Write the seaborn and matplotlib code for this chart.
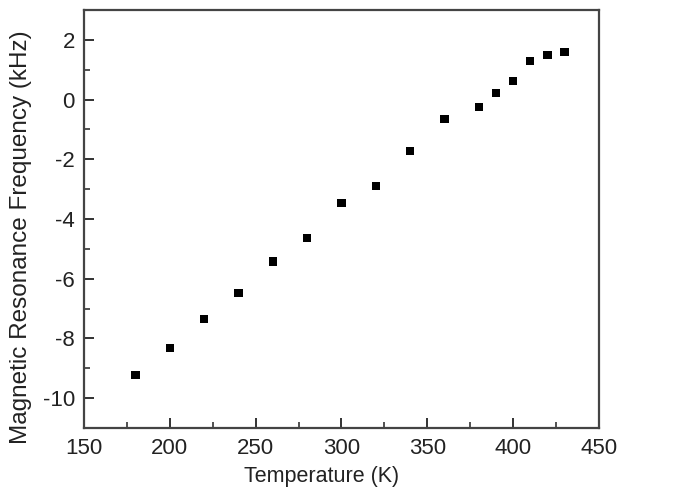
import numpy as np
import pandas as pd
import seaborn as sns
import matplotlib
matplotlib.use("Agg")
from matplotlib import pyplot as plt
from matplotlib.ticker import MultipleLocator

# data
temperature = [180, 200, 220, 240, 260, 280, 300, 320, 340, 360, 380, 390, 400, 410, 420, 430]
frequency = [-9.23, -8.33, -7.36, -6.48, -5.42, -4.63, -3.47, -2.89, -1.72, -0.65,
             -0.26, 0.23, 0.62, 1.30, 1.50, 1.59]

df = pd.DataFrame({'Temperature': temperature, 'Frequency': frequency})

sns.set_style('white')
plt.rcParams['font.family'] = ['Liberation Sans', 'DejaVu Sans']
plt.rcParams['axes.unicode_minus'] = False

fig = plt.figure(figsize=(6.75, 4.99), dpi=100)
ax = fig.add_axes([0.1244, 0.1423, 0.763, 0.8377])

sns.scatterplot(data=df, x='Temperature', y='Frequency', marker='s', s=36,
                color='black', edgecolor='none', ax=ax)

ax.set_xlim(150, 450)
ax.set_ylim(-11, 3)
ax.xaxis.set_major_locator(MultipleLocator(50))
ax.xaxis.set_minor_locator(MultipleLocator(25))
ax.yaxis.set_major_locator(MultipleLocator(2))
ax.yaxis.set_minor_locator(MultipleLocator(1))
ax.set_yticks([-10, -8, -6, -4, -2, 0, 2])

ax.tick_params(axis='both', which='major', direction='in', length=7, width=1.3,
               labelsize=16, colors='#222222', top=False, right=False,
               bottom=True, left=True)
ax.tick_params(axis='x', which='major', pad=7)
ax.tick_params(axis='y', which='major', pad=6.5)
ax.tick_params(axis='both', which='minor', direction='in', length=4, width=1.1,
               color='#222222', top=False, right=False, bottom=True, left=True)

for sp in ax.spines.values():
    sp.set_visible(True)
    sp.set_color('#444444')
    sp.set_linewidth(1.6)

ax.set_xlabel('Temperature (K)', fontsize=15.5, color='#222222')
ax.set_ylabel('Magnetic Resonance Frequency (kHz)', fontsize=17.5, color='#222222')
ax.xaxis.set_label_coords(0.462, -0.091)
ax.yaxis.set_label_coords(-0.101, 0.457)

plt.savefig('out.png', dpi=100)
